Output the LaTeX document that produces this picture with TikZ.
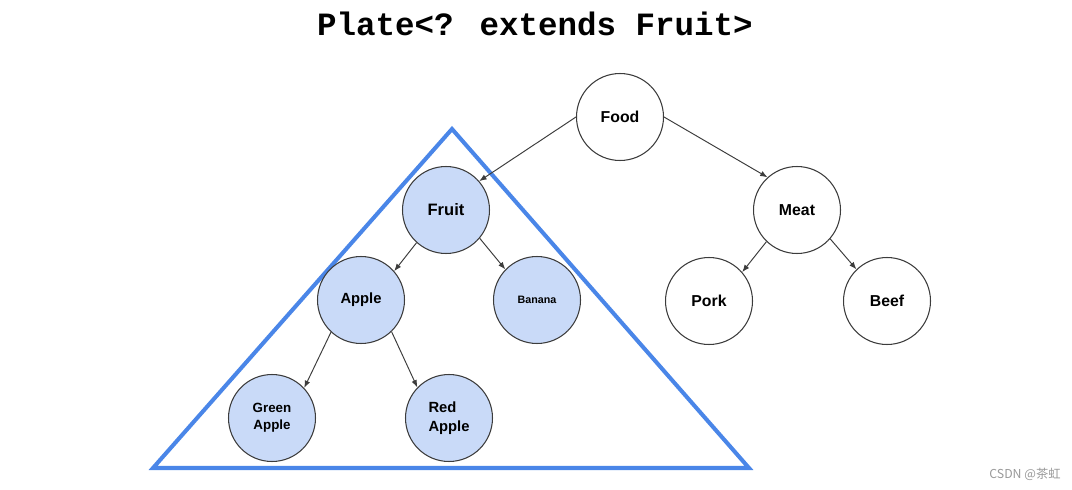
\documentclass[tikz,border=0pt]{standalone}
\usepackage{fontspec}
\setmainfont{Liberation Sans}
\newfontfamily\titlefont{Liberation Mono}
\newfontfamily\cjkfont{Noto Sans CJK SC}
\usetikzlibrary{arrows.meta}
\definecolor{fillblue}{HTML}{C9DAF8}
\definecolor{triblue}{HTML}{4A86E8}
\definecolor{edgegray}{HTML}{3C3C3C}
\tikzset{
  treenode/.style={circle, draw=edgegray, line width=0.6pt, minimum size=1.74cm, inner sep=0pt, font=\fontsize{9}{10.5}\selectfont\bfseries, text=black},
  fruitnode/.style={treenode, fill=fillblue},
  plainnode/.style={treenode, fill=white},
  link/.style={draw=edgegray, line width=0.55pt, -{Latex[length=4.2pt,width=3.2pt]}},
  tri/.style={draw=triblue, line width=2.3pt, line join=miter}
}
\newcommand{\lowertext}[2]{\raisebox{#1}{#2}}
\begin{document}
\begin{tikzpicture}[x=0.02cm, y=-0.02cm]
\useasboundingbox (0,0) rectangle (1072,490);
% title
\node (title) at (535,24) {\titlefont\bfseries\fontsize{18.5}{20}\selectfont Plate<? extends Fruit>};
% triangle
\coordinate (tA) at (452,129);
\coordinate (tB) at (153,468);
\coordinate (tC) at (749,468);
\draw[tri] (tA) -- (tB) -- (tC) -- cycle;
% nodes
\node[plainnode] (food) at (620,117) {\lowertext{-0.5pt}{Food}};
\node[fruitnode] (fruit) at (446,210) {\lowertext{-0.5pt}{\fontsize{9.4}{11}\selectfont Fruit}};
\node[plainnode] (meat) at (797,210) {\lowertext{-0.5pt}{Meat}};
\node[fruitnode] (apple) at (361,300) {\lowertext{-1.2pt}{\fontsize{8.4}{10}\selectfont Apple}};
\node[fruitnode] (banana) at (537,300) {\lowertext{-0.3pt}{\fontsize{6.1}{7}\selectfont Banana}};
\node[plainnode] (pork) at (709,301) {\lowertext{-0.6pt}{Pork}};
\node[plainnode] (beef) at (887,301) {\lowertext{-0.6pt}{Beef}};
\node[fruitnode] (green) at (272,418) {\lowertext{-1.8pt}{\fontsize{7.6}{9.6}\selectfont\begin{tabular}{@{}c@{}}Green\\Apple\end{tabular}}};
\node[fruitnode] (red) at (449,418) {\lowertext{-1.6pt}{\fontsize{8.4}{10.6}\selectfont\begin{tabular}{@{}l@{}}Red\\Apple\end{tabular}}};
% edges
\draw[link] (food.180) -- (fruit.41);
\draw[link] (food.0) -- (meat.132);
\draw[link] (meat.226) -- (pork.41);
\draw[link] (meat.-41) -- (beef.134);
\draw[link] (fruit.228) -- (apple.41);
\draw[link] (fruit.-40) -- (banana.136);
\draw[link] (apple.227) -- (green.43);
\draw[link] (apple.-46) -- (red.136);
% watermark
\node[text=gray!80] (wm) at (1025,474) {\cjkfont\fontsize{7}{8}\selectfont CSDN @茶虹};
\end{tikzpicture}
\end{document}
